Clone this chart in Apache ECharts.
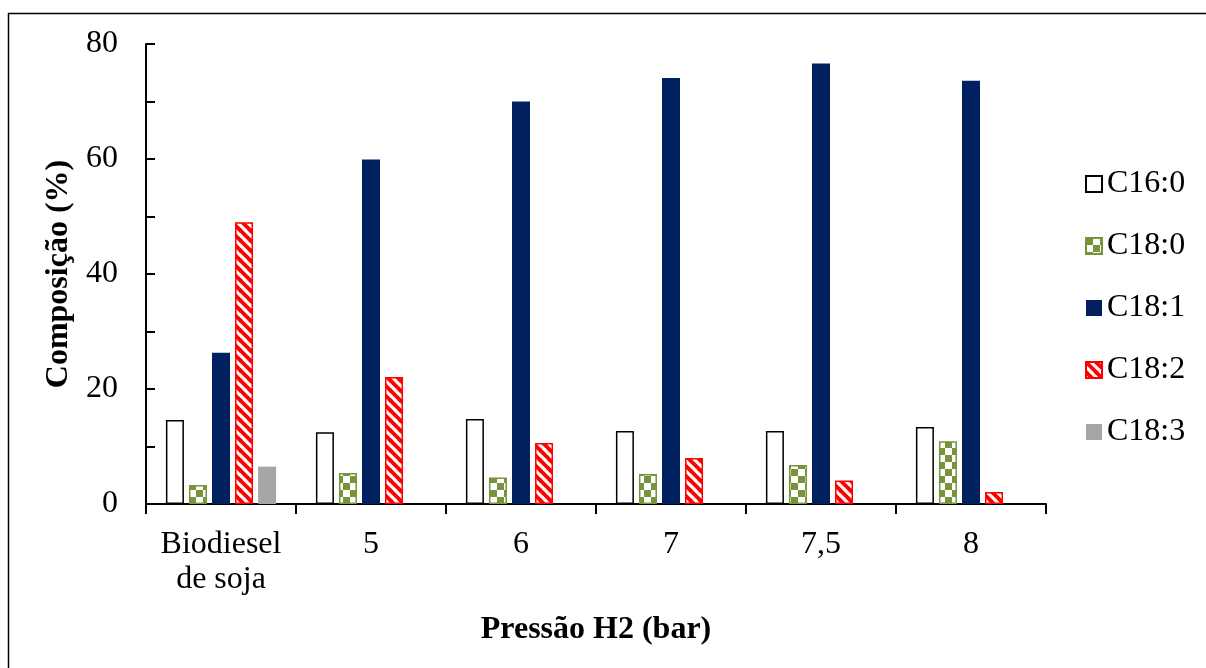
<!DOCTYPE html>
<html>
<head>
<meta charset="utf-8">
<script src="https://cdn.jsdelivr.net/npm/echarts@6/dist/echarts.min.js"></script>
<style>
  html, body { margin: 0; padding: 0; background: #fff; }
  #chart { width: 1206px; height: 668px; }
</style>
</head>
<body>
<div id="chart"></div>
<script>
// Pressure levels (bar) and reference biodiesel
const categories = ['Biodiesel\nde soja', '5', '6', '7', '7,5', '8'];
const seriesNames = ['C16:0', 'C18:0', 'C18:1', 'C18:2', 'C18:3'];

// Fatty acid composition (%)
const c16_0 = [14.6, 12.5, 14.8, 12.7, 12.7, 13.4];
const c18_0 = [3.3, 5.4, 4.6, 5.2, 6.8, 10.9];
const c18_1 = [26.3, 59.9, 70.0, 74.1, 76.6, 73.6];
const c18_2 = [49.0, 22.1, 10.6, 8.0, 4.1, 2.1];
const c18_3 = [6.5, 0, 0, 0, 0, 0];

const yTicks = [0, 20, 40, 60, 80];

const FONT = 'Liberation Serif';
const GREEN = '#77933C';
const RED = '#FF0000';
const NAVY = '#002060';
const GREY = '#A6A6A6';

// Checkerboard fill for C18:0
function checkerPattern() {
  const c = document.createElement('canvas');
  c.width = 14; c.height = 14;
  const g = c.getContext('2d');
  g.fillStyle = '#fff';
  g.fillRect(0, 0, 14, 14);
  g.fillStyle = GREEN;
  g.fillRect(0, 0, 7, 7);
  g.fillRect(7, 7, 7, 7);
  return c;
}

// Diagonal stripe fill for C18:2
function stripePattern() {
  const s = 10;
  const c = document.createElement('canvas');
  c.width = s; c.height = s;
  const g = c.getContext('2d');
  g.fillStyle = '#fff';
  g.fillRect(0, 0, s, s);
  g.strokeStyle = RED;
  g.lineWidth = 3.8;
  g.lineCap = 'square';
  [[-s, 0], [0, 0], [s, 0], [0, -s], [0, s]].forEach(([dx, dy]) => {
    g.beginPath();
    g.moveTo(dx, dy);
    g.lineTo(dx + s, dy + s);
    g.stroke();
  });
  return c;
}

const styles = [
  { color: '#ffffff', borderColor: '#000000', borderWidth: 1.5 },
  { color: { image: checkerPattern(), repeat: 'repeat' }, borderColor: GREEN, borderWidth: 1.5 },
  { color: NAVY, borderWidth: 0 },
  { color: { image: stripePattern(), repeat: 'repeat' }, borderColor: RED, borderWidth: 1.5 },
  { color: GREY, borderWidth: 0 }
];
const values = [c16_0, c18_0, c18_1, c18_2, c18_3];

const chart = echarts.init(document.getElementById('chart'), null, { renderer: 'canvas' });

chart.setOption({
  backgroundColor: '#ffffff',
  animation: false,
  textStyle: { fontFamily: FONT },
  grid: { left: 146, right: 160, top: 44, bottom: 164, containLabel: false },
  graphic: [{
    type: 'rect',
    shape: { x: 8.5, y: 13.5, width: 1400, height: 900 },
    style: { fill: 'none', stroke: '#000', lineWidth: 1.5 },
    silent: true,
    z: -1
  }],
  legend: {
    orient: 'vertical',
    left: 1080,
    top: 163,
    icon: 'rect',
    itemWidth: 16,
    itemHeight: 16,
    itemGap: 30,
    data: seriesNames,
    textStyle: { fontFamily: FONT, fontSize: 32, color: '#000', lineHeight: 32 }
  },
  xAxis: {
    type: 'category',
    data: categories,
    name: 'Pressão H2 (bar)',
    nameLocation: 'middle',
    nameGap: 110,
    nameTextStyle: { fontFamily: FONT, fontSize: 32, fontWeight: 'bold', color: '#000' },
    axisLine: { lineStyle: { color: '#000', width: 2 } },
    axisTick: { show: true, alignWithLabel: false, length: 10, lineStyle: { color: '#000', width: 2 } },
    axisLabel: { fontFamily: FONT, fontSize: 32, color: '#000', lineHeight: 35, margin: 23, interval: 0 }
  },
  yAxis: {
    type: 'value',
    min: 0,
    max: 80,
    interval: 10,
    name: 'Composição (%)',
    nameLocation: 'middle',
    nameGap: 66,
    nameRotate: 90,
    nameTextStyle: { fontFamily: FONT, fontSize: 32, fontWeight: 'bold', color: '#000' },
    splitLine: { show: false },
    axisLine: { show: true, lineStyle: { color: '#000', width: 2 } },
    axisTick: { show: true, inside: true, length: 9, lineStyle: { color: '#000', width: 2 } },
    axisLabel: {
      fontFamily: FONT, fontSize: 32, color: '#000', margin: 28,
      formatter: v => (yTicks.indexOf(v) >= 0 ? String(v) : '')
    }
  },
  series: seriesNames.map((name, i) => ({
    name: name,
    type: 'bar',
    data: values[i],
    barWidth: 18,
    barGap: '28%',
    itemStyle: styles[i],
    emphasis: { disabled: true }
  }))
});
</script>
</body>
</html>
